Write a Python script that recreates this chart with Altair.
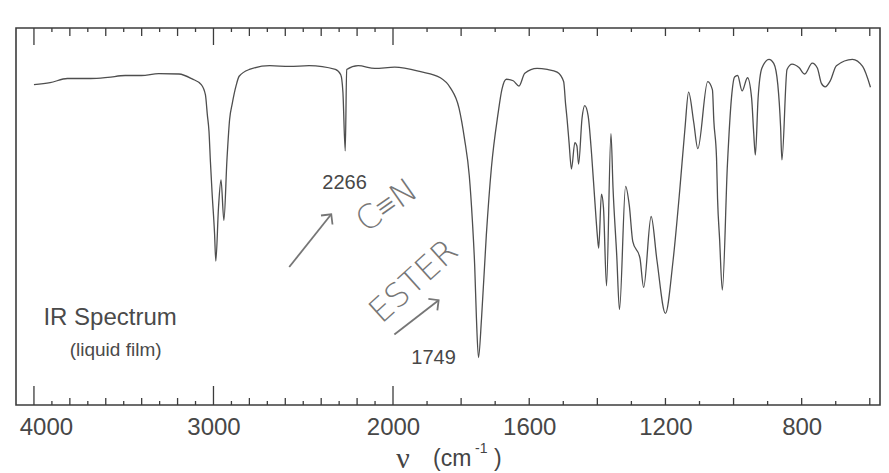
import altair as alt
import pandas as pd

# Liquid-film IR spectrum: wavenumber (cm^-1) against transmittance (%)
NITRILE_BAND = 2266
CARBONYL_BAND = 1749

wavenumber = [
    4000, 3910, 3814, 3684, 3588, 3492, 3401, 3305, 3192, 3119,
    3068, 3045, 3034, 3025, 3017, 3008, 2994, 2987, 2972, 2958,
    2942, 2925, 2910, 2896, 2874, 2857, 2800, 2687, 2577, 2467,
    2321, 2291, 2279, NITRILE_BAND, 2258, 2194, 2101, 1995, 1919, 1861,
    1832, 1806, 1790, 1776, 1767, 1760, 1755, CARBONYL_BAND, 1740, 1726,
    1711, 1692, 1680, 1667, 1647, 1630, 1613, 1577, 1547, 1518,
    1499, 1493, 1489, 1483, 1476, 1466, 1460, 1455, 1445, 1437,
    1427, 1417, 1408, 1400, 1396, 1388, 1382, 1373, 1360, 1354,
    1343, 1335, 1317, 1306, 1296, 1275, 1264, 1242, 1225, 1200,
    1178, 1158, 1143, 1132, 1117, 1105, 1076, 1062, 1058, 1050,
    1047, 1041, 1033, 1018, 1006, 997, 988, 975, 959, 947,
    941, 936, 928, 917, 896, 882, 870, 862, 858, 843,
    828, 808, 791, 769, 754, 742, 731, 716, 698, 651,
    621, 598,
]
transmittance = [
    85.0, 85.5, 86.6, 86.6, 86.9, 87.4, 87.4, 87.9, 87.8, 86.5,
    85.0, 82.3, 76.9, 72.6, 64.5, 56.5, 45.5, 38.2, 52.4, 59.7,
    49.0, 65.0, 75.8, 79.8, 84.7, 87.2, 89.0, 90.0, 89.8, 90.0,
    89.0, 87.6, 83.0, 67.4, 89.0, 90.0, 89.3, 89.6, 88.4, 86.8,
    84.2, 78.7, 70.6, 60.8, 49.0, 36.6, 23.0, 12.6, 23.0, 45.0,
    63.0, 77.0, 83.8, 86.4, 86.0, 84.6, 88.0, 89.3, 89.0, 88.3,
    85.8, 79.6, 76.0, 69.6, 62.6, 69.6, 68.7, 63.9, 76.0, 79.4,
    76.7, 66.7, 55.0, 45.0, 41.6, 55.9, 52.4, 31.6, 72.0, 57.7,
    39.6, 25.3, 58.0, 52.8, 43.4, 39.0, 31.2, 50.0, 38.4, 24.3,
    38.0, 57.0, 73.0, 83.0, 75.0, 68.0, 85.8, 83.6, 75.5, 65.5,
    54.8, 44.0, 30.5, 63.8, 81.6, 87.0, 87.4, 83.3, 86.8, 81.4,
    72.4, 66.3, 81.3, 89.3, 91.7, 90.6, 84.9, 74.0, 65.0, 89.0,
    90.4, 89.5, 87.8, 90.7, 89.4, 85.3, 84.4, 86.0, 90.0, 91.7,
    89.8, 84.3,
]

# Axis furniture
major_ticks = [4000, 3000, 2000]
medium_ticks = [3800, 3600, 3400, 3200, 2800, 2600, 2400, 2200,
                1800, 1600, 1400, 1200, 1000, 800, 600]
minor_ticks = [3900, 3700, 3500, 3300, 3100, 2900, 2700, 2500, 2300, 2100,
               1900, 1700, 1500, 1300, 1100, 900, 700]
tick_labels = [4000, 3000, 2000, 1600, 1200, 800]

# Printed band labels
band_text = [str(NITRILE_BAND), str(CARBONYL_BAND)]
band_text_wn = [2270, 1881]
band_text_t = [58.8, 12.5]

# Pencil notes and their arrows
note_text = ["C≡N", "ESTER"]
note_wn = [2033, 1938]
note_t = [52.8, 32.7]
arrow_id = ["cn", "cn", "ester", "ester"]
arrow_wn = [2578, 2344, 1996, 1866]
arrow_t = [36.6, 50.6, 18.7, 27.8]

W, H = 864, 377
INK = "#3c3c3c"
TRACE = "#4e4e4e"
PENCIL = "#767676"

x_scale = alt.Scale(domain=[4100, 2000, 570], range=[0, 377, W], nice=False, zero=False)
y_scale = alt.Scale(domain=[0, 100], nice=False, zero=False)

spectrum = pd.DataFrame({"wn": wavenumber, "T": transmittance})

trace = alt.Chart(spectrum).mark_line(color=TRACE, strokeWidth=1.3, interpolate="monotone").encode(
    x=alt.X("wn:Q", scale=x_scale,
            axis=alt.Axis(values=tick_labels, format="d", ticks=False, tickSize=0, domain=False, grid=False,
                          labelFont="Liberation Sans", labelFontSize=24, labelColor="#474747",
                          labelPadding=10,
                          labelOffset={"condition": {"test": "datum.value == 4000", "value": 12}, "value": 0},
                          title=None)),
    y=alt.Y("T:Q", scale=y_scale, axis=None),
    order=alt.Order("wn:Q", sort="descending"),
)


def tick_layer(values, length, top):
    df = pd.DataFrame({"wn": values})
    if top:
        enc = dict(y=alt.value(0), y2=alt.value(length))
    else:
        enc = dict(y=alt.value(H), y2=alt.value(H - length))
    return alt.Chart(df).mark_rule(color=INK, strokeWidth=1.3).encode(
        x=alt.X("wn:Q", scale=x_scale), **enc)


ticks = [
    tick_layer(major_ticks, 19, False), tick_layer(medium_ticks, 7, False), tick_layer(minor_ticks, 4, False),
    tick_layer(major_ticks, 17, True), tick_layer(medium_ticks, 8, True), tick_layer(minor_ticks, 4, True),
]

bands = alt.Chart(pd.DataFrame({"wn": band_text_wn, "T": band_text_t, "label": band_text})).mark_text(
    font="Liberation Sans", fontSize=20, color="#474747", baseline="middle", align="center"
).encode(x=alt.X("wn:Q", scale=x_scale), y=alt.Y("T:Q", scale=y_scale), text="label:N")

title_main = alt.Chart(pd.DataFrame({"wn": [3576], "T": [23.0], "label": ["IR Spectrum"]})).mark_text(
    font="Liberation Sans", fontSize=24, color="#4a4a4a", baseline="middle", align="center"
).encode(x=alt.X("wn:Q", scale=x_scale), y=alt.Y("T:Q", scale=y_scale), text="label:N")

title_sub = alt.Chart(pd.DataFrame({"wn": [3545], "T": [14.6], "label": ["(liquid film)"]})).mark_text(
    font="Liberation Sans", fontSize=19, color="#4a4a4a", baseline="middle", align="center"
).encode(x=alt.X("wn:Q", scale=x_scale), y=alt.Y("T:Q", scale=y_scale), text="label:N")

notes_df = pd.DataFrame({"wn": note_wn, "T": note_t, "label": note_text})
note_cn = alt.Chart(notes_df.iloc[[0]]).mark_text(
    font="DejaVu Sans", fontSize=33, fontWeight=300, color=PENCIL, angle=325,
    baseline="middle", align="center"
).encode(x=alt.X("wn:Q", scale=x_scale), y=alt.Y("T:Q", scale=y_scale), text="label:N")
note_ester = alt.Chart(notes_df.iloc[[1]]).mark_text(
    font="DejaVu Sans", fontSize=33, fontWeight=300, color=PENCIL, angle=318,
    baseline="middle", align="center"
).encode(x=alt.X("wn:Q", scale=x_scale), y=alt.Y("T:Q", scale=y_scale), text="label:N")

arrows_df = pd.DataFrame({"id": arrow_id, "wn": arrow_wn, "T": arrow_t})
shafts = alt.Chart(arrows_df).mark_line(color=PENCIL, strokeWidth=1.8).encode(
    x=alt.X("wn:Q", scale=x_scale), y=alt.Y("T:Q", scale=y_scale), detail="id:N",
    order=alt.Order("wn:Q", sort="descending"))

CHEVRON = "M-0.75,0.75L0,0L0.75,0.75"
head_cn = alt.Chart(arrows_df.iloc[[1]]).mark_point(
    shape=CHEVRON, size=380, filled=False, color=PENCIL, strokeWidth=1.8, angle=38, opacity=1
).encode(x=alt.X("wn:Q", scale=x_scale), y=alt.Y("T:Q", scale=y_scale))
head_ester = alt.Chart(arrows_df.iloc[[3]]).mark_point(
    shape=CHEVRON, size=380, filled=False, color=PENCIL, strokeWidth=1.8, angle=52, opacity=1
).encode(x=alt.X("wn:Q", scale=x_scale), y=alt.Y("T:Q", scale=y_scale))

# Axis title: nu (cm^-1), set piece by piece below the bottom axis
unit_df = pd.DataFrame({"k": [0]})
nu = alt.Chart(unit_df).mark_text(font="Liberation Serif", fontSize=30, color="#444", text="ν",
                                  align="center", baseline="middle").encode(
    x=alt.value(387), y=alt.value(431))
cm = alt.Chart(unit_df).mark_text(font="Liberation Sans", fontSize=23, color="#444", text="(cm",
                                  align="left", baseline="middle").encode(
    x=alt.value(417), y=alt.value(431))
sup = alt.Chart(unit_df).mark_text(font="Liberation Sans", fontSize=14, color="#444", text="-1",
                                   align="left", baseline="middle").encode(
    x=alt.value(459), y=alt.value(421))
close = alt.Chart(unit_df).mark_text(font="Liberation Sans", fontSize=23, color="#444", text=")",
                                     align="left", baseline="middle").encode(
    x=alt.value(478), y=alt.value(431))

chart = alt.layer(
    trace, *ticks, bands, title_main, title_sub, note_cn, note_ester, shafts, head_cn, head_ester,
    nu, cm, sup, close,
).properties(
    width=W, height=H,
    padding={"left": 16, "top": 28, "right": 9, "bottom": 68},
    autosize=alt.AutoSizeParams(type="none"),
    background="white",
).configure_view(stroke=INK, strokeWidth=1.6)

chart.save("out.html", embed_options={"renderer": "svg", "actions": False})
